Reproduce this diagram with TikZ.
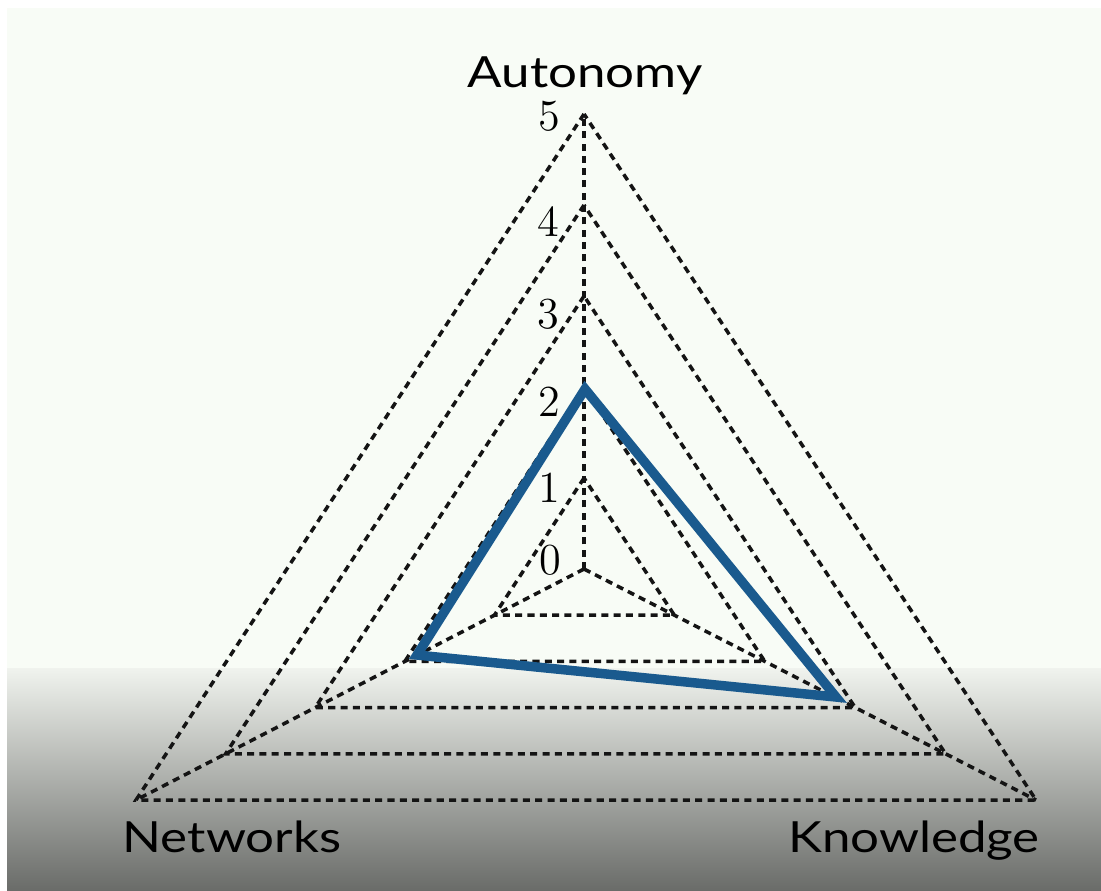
\documentclass[tikz,border=0pt]{standalone}
\usepackage{fontspec}
\newfontfamily\labelfont[FakeStretch=1.19]{Lato}
\usetikzlibrary{calc}
\definecolor{bgmint}{HTML}{F8FCF6}
\definecolor{bgtop}{HTML}{F0F3EE}
\definecolor{bgbottom}{HTML}{6A6C69}
\definecolor{seriesblue}{HTML}{1A5A8E}
\tikzset{
  grid/.style={black!92, line width=1pt, dash pattern=on 2pt off 1.5pt},
  series/.style={seriesblue, line width=2.7pt, line join=miter},
  axislabel/.style={font=\labelfont\fontsize{12.2}{14}\selectfont, inner sep=0pt, anchor=base},
  ticklabel/.style={font=\fontsize{12.6}{14}\selectfont, inner sep=0pt, anchor=center},
}
\begin{document}
\begin{tikzpicture}[x=0.01cm, y=-0.01cm]
\useasboundingbox (0,0) rectangle (1101,890);
\fill[white] (0,0) rectangle (1101,890);
\fill[bgmint] (7,8) rectangle (1101,890);
\shade[top color=bgtop, bottom color=bgbottom] (7,668) rectangle (1101,890);
% center and axis vectors
\coordinate (C) at (584,569);
\foreach \r in {1,...,5}{
  \coordinate (A\r) at ($(C)+(0,-91*\r)$);
  \coordinate (N\r) at ($(C)+(-89.6*\r,46.2*\r)$);
  \coordinate (K\r) at ($(C)+(90.4*\r,46.2*\r)$);
}
% spokes
\draw[grid] (C) -- (A5);
\draw[grid] (C) -- (N5);
\draw[grid] (C) -- (K5);
% level triangles
\foreach \r in {1,...,5}{
  \draw[grid] (A\r) -- (N\r) -- (K\r) -- cycle;
}
% data series
\coordinate (PA) at (585,389);
\coordinate (PN) at (417,655);
\coordinate (PK) at (836,697);
\draw[series] (PA) -- (PN) -- (PK) -- cycle;
% tick labels
\node[ticklabel] (t5) at (549,116) {5};
\node[ticklabel] (t4) at (548,222) {4};
\node[ticklabel] (t3) at (548,314) {3};
\node[ticklabel] (t2) at (549,402) {2};
\node[ticklabel] (t1) at (549,488) {1};
\node[ticklabel] (t0) at (550,560) {0};
% axis labels
\node[axislabel] (autonomy) at (585,87) {Autonomy};
\node[axislabel] (networks) at (232,852) {Networks};
\node[axislabel] (knowledge) at (914,852) {Knowledge};
\end{tikzpicture}
\end{document}
